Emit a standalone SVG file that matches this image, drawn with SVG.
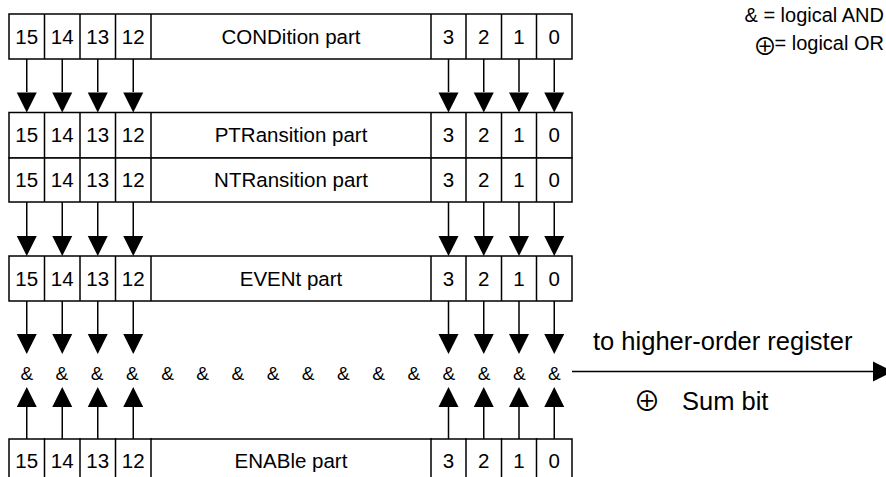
<svg xmlns="http://www.w3.org/2000/svg" width="886" height="477" viewBox="0 0 886 477">
<style>
.box{fill:#fff;stroke:#000;stroke-width:1.5}
.ln{stroke:#000;stroke-width:1.5;fill:none}
.cell{font-family:"Liberation Sans",Arial,sans-serif;font-size:20.5px;fill:#000;text-anchor:middle}
.amp{font-family:"Liberation Sans",Arial,sans-serif;font-size:19px;fill:#000;text-anchor:middle}
.big{font-family:"Liberation Sans",Arial,sans-serif;font-size:25.5px;fill:#000}
.leg{font-family:"Liberation Sans",Arial,sans-serif;font-size:20px;fill:#000}
.sym{font-family:"Noto Sans CJK JP","DejaVu Sans",sans-serif;fill:#000;text-anchor:middle}
</style>
<defs>
<path id="dn" d="M-10,-20 L10,-20 L0,0 Z" fill="#000"/>
<path id="up" d="M-10,20 L10,20 L0,0 Z" fill="#000"/>
<g id="reg">
<path class="ln" d="M44.5,0 V45 M80,0 V45 M115.5,0 V45 M151,0 V45 M431,0 V45 M466,0 V45 M501.5,0 V45 M536.5,0 V45"/>
<text class="cell" x="26.75" y="29.5">15</text>
<text class="cell" x="62.25" y="29.5">14</text>
<text class="cell" x="97.75" y="29.5">13</text>
<text class="cell" x="133.25" y="29.5">12</text>
<text class="cell" x="448.5" y="29.5">3</text>
<text class="cell" x="483.75" y="29.5">2</text>
<text class="cell" x="519" y="29.5">1</text>
<text class="cell" x="554.25" y="29.5">0</text>
</g>
</defs>

<g id="condition">
<rect class="box" x="9" y="14" width="563" height="45"/>
<use href="#reg" transform="translate(0,14)"/>
<text class="cell" x="291" y="43.5">CONDition part</text>
</g>
<g id="ptransition">
<rect class="box" x="9" y="112.5" width="563" height="45.5"/>
<use href="#reg" transform="translate(0,112.5)"/>
<text class="cell" x="291" y="142">PTRansition part</text>
</g>
<g id="ntransition">
<rect class="box" x="9" y="158" width="563" height="44"/>
<path class="ln" d="M44.5,158 V202 M80,158 V202 M115.5,158 V202 M151,158 V202 M431,158 V202 M466,158 V202 M501.5,158 V202 M536.5,158 V202"/>
<text class="cell" x="26.75" y="187">15</text>
<text class="cell" x="62.25" y="187">14</text>
<text class="cell" x="97.75" y="187">13</text>
<text class="cell" x="133.25" y="187">12</text>
<text class="cell" x="448.5" y="187">3</text>
<text class="cell" x="483.75" y="187">2</text>
<text class="cell" x="519" y="187">1</text>
<text class="cell" x="554.25" y="187">0</text>
<text class="cell" x="291" y="187">NTRansition part</text>
</g>
<g id="event">
<rect class="box" x="9" y="256" width="563" height="45"/>
<use href="#reg" transform="translate(0,256)"/>
<text class="cell" x="291" y="285.5">EVENt part</text>
</g>
<g id="enable">
<rect class="box" x="9" y="439" width="563" height="60"/>
<use href="#reg" transform="translate(0,438)"/>
<text class="cell" x="291" y="467.5">ENABle part</text>
</g>

<g id="and-row">
<text class="amp" x="26.75" y="380">&amp;</text>
<text class="amp" x="61.93" y="380">&amp;</text>
<text class="amp" x="97.11" y="380">&amp;</text>
<text class="amp" x="132.29" y="380">&amp;</text>
<text class="amp" x="167.47" y="380">&amp;</text>
<text class="amp" x="202.65" y="380">&amp;</text>
<text class="amp" x="237.83" y="380">&amp;</text>
<text class="amp" x="273.01" y="380">&amp;</text>
<text class="amp" x="308.19" y="380">&amp;</text>
<text class="amp" x="343.37" y="380">&amp;</text>
<text class="amp" x="378.55" y="380">&amp;</text>
<text class="amp" x="413.73" y="380">&amp;</text>
<text class="amp" x="448.91" y="380">&amp;</text>
<text class="amp" x="484.09" y="380">&amp;</text>
<text class="amp" x="519.27" y="380">&amp;</text>
<text class="amp" x="554.45" y="380">&amp;</text>
</g>

<g id="connectors">
<path class="ln" d="M26.75,59 V92 M62.25,59 V92 M97.75,59 V92 M133.25,59 V92 M448.5,59 V92 M483.75,59 V92 M519,59 V92 M554.25,59 V92"/>
<use href="#dn" x="26.75" y="112.5"/><use href="#dn" x="62.25" y="112.5"/><use href="#dn" x="97.75" y="112.5"/><use href="#dn" x="133.25" y="112.5"/>
<use href="#dn" x="448.5" y="112.5"/><use href="#dn" x="483.75" y="112.5"/><use href="#dn" x="519" y="112.5"/><use href="#dn" x="554.25" y="112.5"/>
<path class="ln" d="M26.75,202 V236 M62.25,202 V236 M97.75,202 V236 M133.25,202 V236 M448.5,202 V236 M483.75,202 V236 M519,202 V236 M554.25,202 V236"/>
<use href="#dn" x="26.75" y="256"/><use href="#dn" x="62.25" y="256"/><use href="#dn" x="97.75" y="256"/><use href="#dn" x="133.25" y="256"/>
<use href="#dn" x="448.5" y="256"/><use href="#dn" x="483.75" y="256"/><use href="#dn" x="519" y="256"/><use href="#dn" x="554.25" y="256"/>
<path class="ln" d="M26.75,301 V335 M62.25,301 V335 M97.75,301 V335 M133.25,301 V335 M448.5,301 V335 M483.75,301 V335 M519,301 V335 M554.25,301 V335"/>
<use href="#dn" x="26.75" y="354"/><use href="#dn" x="62.25" y="354"/><use href="#dn" x="97.75" y="354"/><use href="#dn" x="133.25" y="354"/>
<use href="#dn" x="448.5" y="354"/><use href="#dn" x="483.75" y="354"/><use href="#dn" x="519" y="354"/><use href="#dn" x="554.25" y="354"/>
<path class="ln" d="M26.75,439 V406 M62.25,439 V406 M97.75,439 V406 M133.25,439 V406 M448.5,439 V406 M483.75,439 V406 M519,439 V406 M554.25,439 V406"/>
<use href="#up" x="26.75" y="387"/><use href="#up" x="62.25" y="387"/><use href="#up" x="97.75" y="387"/><use href="#up" x="133.25" y="387"/>
<use href="#up" x="448.5" y="387"/><use href="#up" x="483.75" y="387"/><use href="#up" x="519" y="387"/><use href="#up" x="554.25" y="387"/>
<path class="ln" d="M572,371.5 H874"/>
<path d="M873,361.5 L893,371.5 L873,381.5 Z" fill="#000"/>
</g>

<g id="labels">
<text class="big" x="593" y="350">to higher-order register</text>
<text class="sym" x="647" y="411" font-size="27px">⊕</text>
<text class="big" x="682" y="410">Sum bit</text>
<text class="leg" x="884" y="21.5" text-anchor="end">&amp; = logical AND</text>
<text class="sym" x="765" y="54.5" font-size="24px">⊕</text>
<text class="leg" x="884" y="50" text-anchor="end">= logical OR</text>
</g>
</svg>
